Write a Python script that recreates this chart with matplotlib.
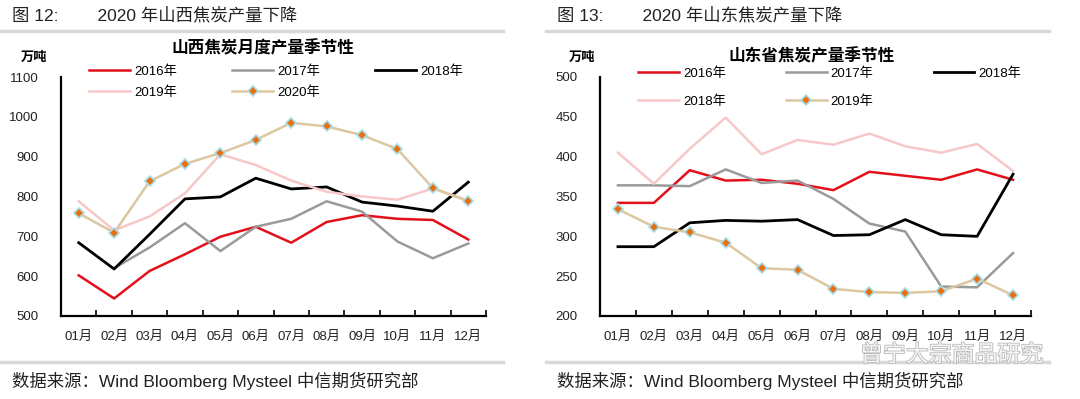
import matplotlib
matplotlib.use("Agg")
import matplotlib.pyplot as plt
from matplotlib.lines import Line2D
import matplotlib.patheffects as pe

plt.rcParams['font.family'] = ['Liberation Sans', 'Noto Sans CJK SC', 'DejaVu Sans']

months = ["01月", "02月", "03月", "04月", "05月", "06月",
          "07月", "08月", "09月", "10月", "11月", "12月"]

# Shanxi coke output (10k t)
sx_2016 = [602, 544, 613, 655, 699, 724, 684, 736, 753, 744, 741, 692]
sx_2017 = [None, 620, 672, 733, 663, 724, 744, 788, 762, 687, 645, 682]
sx_2018 = [684, 618, 705, 794, 799, 846, 819, 824, 786, 776, 763, 836]
sx_2019 = [788, 715, 750, 808, 906, 879, 840, 812, 800, 792, 820, 790]
sx_2020 = [758, 709, 838, 882, 909, 942, 985, 976, 954, 919, 821, 788]

# Shandong coke output (10k t)
sd_2016 = [342, 342, 383, 370, 371, 366, 358, 381, 376, 371, 384, 371]
sd_2017 = [364, 364, 363, 384, 367, 370, 347, 316, 306, 237, 236, 279]
sd_2018 = [287, 287, 317, 320, 319, 321, 301, 302, 321, 302, 300, 378]
sd_2018b = [405, 366, 410, 449, 403, 421, 415, 429, 413, 405, 416, 382]
sd_2019 = [334, 312, 305, 292, 260, 258, 234, 230, 229, 231, 247, 226]

RED = "#e3101c"
GRAY = "#9a9a9a"
BLACK = "#000000"
PINK = "#f6c8c9"
TAN = "#dcc7a1"

W, H = 1080, 399
fig = plt.figure(figsize=(W / 100, H / 100), dpi=100)


def px_axes(x0, y_top, x1, y_bot):
    return fig.add_axes([x0 / W, 1 - y_bot / H, (x1 - x0) / W, (y_bot - y_top) / H])


def style_axes(ax, ylim, ystep):
    x = list(range(12))
    ax.set_xlim(-0.5, 11.5)
    ax.set_ylim(*ylim)
    ax.set_yticks(range(ylim[0], ylim[1] + 1, ystep))
    ax.set_xticks(x)
    ax.set_xticklabels(months)
    ax.set_xticks([i + 0.5 for i in range(-1, 12)], minor=True)
    ax.tick_params(axis="x", which="major", length=0, pad=11, labelsize=9.5, colors="#222222")
    ax.tick_params(axis="x", which="minor", length=4, width=1.2, direction="in")
    ax.tick_params(axis="y", length=0, pad=16, labelsize=9.5, colors="#222222")
    for s in ("top", "right"):
        ax.spines[s].set_visible(False)
    for s in ("left", "bottom"):
        ax.spines[s].set_linewidth(1.6)
    ax.patch.set_visible(False)


def marker_line(ax, y, label):
    return ax.plot(range(12), y, color=TAN, lw=1.8, marker="D", ms=5,
                   mfc="#e8700f", mec="#a8dcea", mew=1.2, label=label)[0]


def plain(ax, y, color, label, lw=1.8):
    xs = [i for i, v in enumerate(y) if v is not None]
    ys = [v for v in y if v is not None]
    return ax.plot(xs, ys, color=color, lw=lw, label=label)[0]


leg_kw = dict(ncol=3, loc="upper left", bbox_transform=fig.transFigure, frameon=False,
              fontsize=9.5, handlelength=3.1, handletextpad=0.3,
              borderpad=0, borderaxespad=0)

# ---- left panel: Shanxi
ax1 = px_axes(61, 77, 486, 316)
style_axes(ax1, (500, 1100), 100)
h16 = plain(ax1, sx_2016, RED, "2016年")
h17 = plain(ax1, sx_2017, GRAY, "2017年")
h18 = plain(ax1, sx_2018, BLACK, "2018年", lw=2)
h19 = plain(ax1, sx_2019, PINK, "2019年")
h20 = marker_line(ax1, sx_2020, "2020年")
ax1.legend([h16, h19, h17, h20, h18], ["2016年", "2019年", "2017年", "2020年", "2018年"],
           bbox_to_anchor=(89 / W, 1 - 65 / H), labelspacing=0.65, columnspacing=4.2,
           **leg_kw)

# ---- right panel: Shandong
ax2 = px_axes(600, 77, 1031, 316)
style_axes(ax2, (200, 500), 50)
g16 = plain(ax2, sd_2016, RED, "2016年")
g17 = plain(ax2, sd_2017, GRAY, "2017年")
g18 = plain(ax2, sd_2018, BLACK, "2018年", lw=2)
g18b = plain(ax2, sd_2018b, PINK, "2018年")
g19 = marker_line(ax2, sd_2019, "2019年")
ax2.legend([g16, g18b, g17, g19, g18], ["2016年", "2018年", "2017年", "2019年", "2018年"],
           bbox_to_anchor=(638 / W, 1 - 67 / H), labelspacing=1.2, columnspacing=4.55,
           **leg_kw)

# ---- texts
fig.text(12 / W, 1 - 15 / H, "图 12:        2020 年山西焦炭产量下降", fontsize=12.5,
         va="center", ha="left", color="#222222")
fig.text(557 / W, 1 - 15 / H, "图 13:        2020 年山东焦炭产量下降", fontsize=12.5,
         va="center", ha="left", color="#222222")
fig.text(263 / W, 1 - 48 / H, "山西焦炭月度产量季节性", fontsize=12, fontweight="bold",
         va="center", ha="center", family=["Noto Sans CJK SC"])
fig.text(812 / W, 1 - 56 / H, "山东省焦炭产量季节性", fontsize=12, fontweight="bold",
         va="center", ha="center", family=["Noto Sans CJK SC"])
fig.text(34 / W, 1 - 57 / H, "万吨", fontsize=9.5, fontweight="bold",
         va="center", ha="center", family=["Noto Sans CJK SC"])
fig.text(582 / W, 1 - 57 / H, "万吨", fontsize=9.5, fontweight="bold",
         va="center", ha="center", family=["Noto Sans CJK SC"])
src = "数据来源：Wind Bloomberg Mysteel 中信期货研究部"
fig.text(12 / W, 1 - 381 / H, src, fontsize=12.5, va="center", ha="left", color="#222222")
fig.text(557 / W, 1 - 381 / H, src, fontsize=12.5, va="center", ha="left", color="#222222")
fig.text(1043 / W, 1 - 355 / H, "曾宁大宗商品研究", fontsize=16.5, va="center", ha="right",
         color="#f6f6f6", family=["Noto Sans CJK SC"],
         path_effects=[pe.withStroke(linewidth=1.2, foreground="#b8b8b8")])

# separator lines
for x0, x1 in ((0, 503), (546, 1049)):
    for y in (31, 362):
        fig.add_artist(Line2D([x0 / W, x1 / W], [1 - y / H, 1 - y / H],
                              color="#d9d9d9", lw=2.5, transform=fig.transFigure))

fig.savefig("out.png", dpi=100, facecolor="white")
